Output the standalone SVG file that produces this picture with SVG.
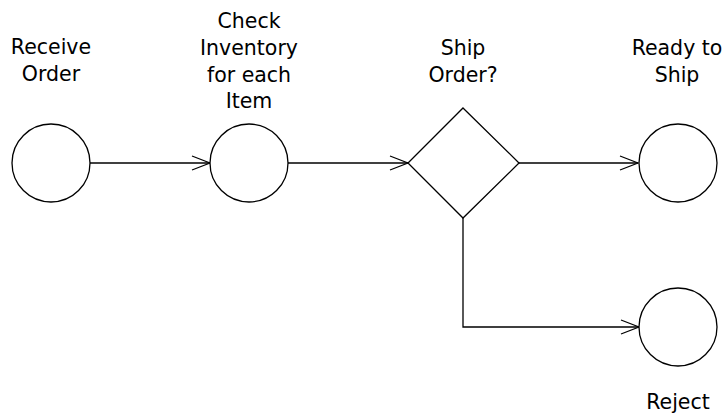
<svg xmlns="http://www.w3.org/2000/svg" width="725" height="414" viewBox="0 0 725 414">
<style>
.n{fill:#fff;stroke:#000;stroke-width:1.3}
.c{fill:none;stroke:#000;stroke-width:1.3}
text{font-family:"DejaVu Sans",sans-serif;font-size:20.5px;fill:#000;text-anchor:middle}
</style>
<defs>
<marker id="a" viewBox="0 0 20 16" refX="19" refY="8" markerWidth="20" markerHeight="16" markerUnits="userSpaceOnUse" orient="auto">
<path d="M1,1 L19,8 L1,15" fill="none" stroke="#000" stroke-width="1.3"/>
</marker>
</defs>
<rect width="725" height="414" fill="#fff"/>
<g id="connectors">
<line class="c" x1="90" y1="163" x2="210" y2="163" marker-end="url(#a)"/>
<line class="c" x1="288" y1="163" x2="408" y2="163" marker-end="url(#a)"/>
<line class="c" x1="519" y1="163" x2="638" y2="163" marker-end="url(#a)"/>
<polyline class="c" points="463,218 463,327 639,327" marker-end="url(#a)"/>
</g>
<g id="receive-order">
<circle class="n" cx="51" cy="163" r="39"/>
<text x="51" y="54">Receive</text>
<text x="51" y="81">Order</text>
</g>
<g id="check-inventory">
<circle class="n" cx="249" cy="163" r="39"/>
<text x="249" y="28">Check</text>
<text x="249" y="55">Inventory</text>
<text x="249" y="82">for each</text>
<text x="249" y="108">Item</text>
</g>
<g id="ship-order">
<polygon class="n" points="463,108 519,163 463,218 408,163"/>
<text x="463" y="55">Ship</text>
<text x="463" y="82">Order?</text>
</g>
<g id="ready-to-ship">
<circle class="n" cx="678" cy="163" r="39"/>
<text x="677" y="55">Ready to</text>
<text x="677" y="82">Ship</text>
</g>
<g id="reject">
<circle class="n" cx="678" cy="327" r="39"/>
<text x="678" y="409">Reject</text>
</g>
</svg>
